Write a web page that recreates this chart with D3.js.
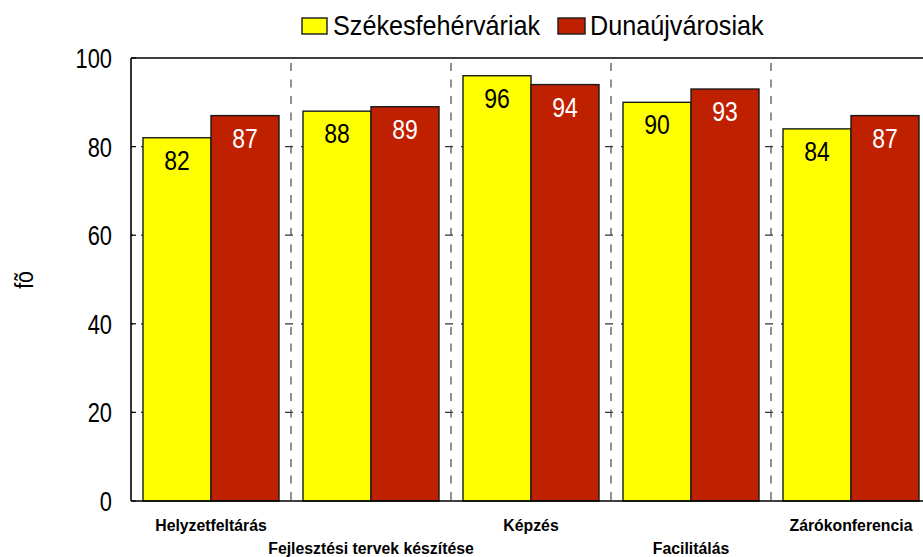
<!DOCTYPE html>
<html>
<head>
<meta charset="utf-8">
<script src="https://cdn.jsdelivr.net/npm/d3@7"></script>
<style>
  html, body { margin: 0; padding: 0; background: #fff; }
  svg { display: block; font-family: "Liberation Sans", Arial, sans-serif; }
</style>
</head>
<body>
<svg id="chart" width="923" height="557"></svg>
<script>
const categories = ["Helyzetfeltárás", "Fejlesztési tervek készítése", "Képzés", "Facilitálás", "Zárókonferencia"];
const seriesNames = ["Székesfehérváriak", "Dunaújvárosiak"];
const szekesfehervar = [82, 88, 96, 90, 84];
const dunaujvaros = [87, 89, 94, 93, 87];
const yTicks = [0, 20, 40, 60, 80, 100];
const yLabel = "fõ";
const colors = ["#FFFF00", "#BF2000"];
const labelColors = ["#000000", "#FFFFFF"];

const svg = d3.select("#chart");
const margin = { left: 131, top: 58, bottom: 501, right: 931 };

const x = d3.scaleBand().domain(categories).range([margin.left, margin.right]).paddingInner(0).paddingOuter(0);
const xs = d3.scaleBand().domain(seriesNames).range([0, x.bandwidth()]).paddingOuter(12 / 136).paddingInner(0);
// group of 160: 12 + 68 + 68 + 12
xs.range([12, x.bandwidth() - 12]).paddingOuter(0);
const y = d3.scaleLinear().domain([0, 100]).range([margin.bottom, margin.top]);

const series = [szekesfehervar, dunaujvaros];

// horizontal dashed gridlines
svg.append("g").selectAll("line").data(yTicks.filter(t => t > 0 && t < 100)).join("line")
  .attr("x1", margin.left).attr("x2", margin.right)
  .attr("y1", d => y(d)).attr("y2", d => y(d))
  .attr("stroke", "#333").attr("stroke-width", 1.2)
  .attr("stroke-dasharray", "8,8").attr("stroke-dashoffset", 6);

// vertical dashed separators
svg.append("g").selectAll("line").data(categories.slice(1)).join("line")
  .attr("x1", d => x(d)).attr("x2", d => x(d))
  .attr("y1", margin.top + 5).attr("y2", margin.bottom)
  .attr("stroke", "#555").attr("stroke-width", 1.3)
  .attr("stroke-dasharray", "8,8.5");

// bars
const groups = svg.append("g").selectAll("g").data(categories).join("g")
  .attr("transform", d => `translate(${x(d)},0)`);

groups.each(function(cat, i) {
  const g = d3.select(this);
  seriesNames.forEach((s, j) => {
    const v = series[j][i];
    g.append("rect")
      .attr("x", xs(s)).attr("width", xs.bandwidth())
      .attr("y", y(v)).attr("height", y(0) - y(v))
      .attr("fill", colors[j]).attr("stroke", "#1a1a1a").attr("stroke-width", 1.4);
    g.append("text")
      .attr("transform", `translate(${xs(s) + xs.bandwidth() / 2},${y(v) + 32}) scale(0.82,1)`)
      .attr("text-anchor", "middle")
      .attr("font-size", 28)
      .attr("fill", labelColors[j])
      .text(v);
  });
});

// frame: left axis, top, bottom
svg.append("line").attr("x1", margin.left).attr("x2", margin.left).attr("y1", margin.top).attr("y2", margin.bottom)
  .attr("stroke", "#000").attr("stroke-width", 1.6);
svg.append("line").attr("x1", margin.left).attr("x2", margin.right).attr("y1", margin.top).attr("y2", margin.top)
  .attr("stroke", "#000").attr("stroke-width", 1.6);
svg.append("line").attr("x1", margin.left).attr("x2", margin.right).attr("y1", margin.bottom).attr("y2", margin.bottom)
  .attr("stroke", "#000").attr("stroke-width", 1.6);

// y axis ticks & labels
const yAxis = svg.append("g");
yAxis.selectAll("line").data(yTicks).join("line")
  .attr("x1", margin.left).attr("x2", margin.left + 5)
  .attr("y1", d => y(d)).attr("y2", d => y(d))
  .attr("stroke", "#000").attr("stroke-width", 1.2);
yAxis.selectAll("text").data(yTicks).join("text")
  .attr("transform", d => `translate(112,${y(d) + 10}) scale(0.78,1)`)
  .attr("text-anchor", "end")
  .attr("font-size", 28)
  .attr("fill", "#000")
  .text(d => d);

// y label
svg.append("text")
  .attr("transform", "translate(33,280) rotate(-90) scale(0.85,1)")
  .attr("text-anchor", "middle")
  .attr("font-size", 25)
  .attr("fill", "#000")
  .text(yLabel);

// x labels (staggered)
svg.append("g").selectAll("text").data(categories).join("text")
  .attr("transform", (d, i) => `translate(${x(d) + x.bandwidth() / 2},${i % 2 === 0 ? 531 : 554}) scale(0.93,1)`)
  .attr("text-anchor", "middle")
  .attr("font-size", 17)
  .attr("font-weight", "bold")
  .attr("fill", "#000")
  .text(d => d);

// legend
const legendItems = [
  { name: seriesNames[0], color: colors[0], sx: 302, sw: 25, tx: 333 },
  { name: seriesNames[1], color: colors[1], sx: 558, sw: 27, tx: 590 }
];
const lg = svg.append("g").selectAll("g").data(legendItems).join("g");
lg.append("rect")
  .attr("x", d => d.sx).attr("y", 18).attr("width", d => d.sw).attr("height", 16)
  .attr("fill", d => d.color).attr("stroke", "#1a1a1a").attr("stroke-width", 1.4);
lg.append("text")
  .attr("transform", d => `translate(${d.tx},35) scale(0.9,1)`)
  .attr("font-size", 28)
  .attr("fill", "#000")
  .text(d => d.name);
</script>
</body>
</html>
